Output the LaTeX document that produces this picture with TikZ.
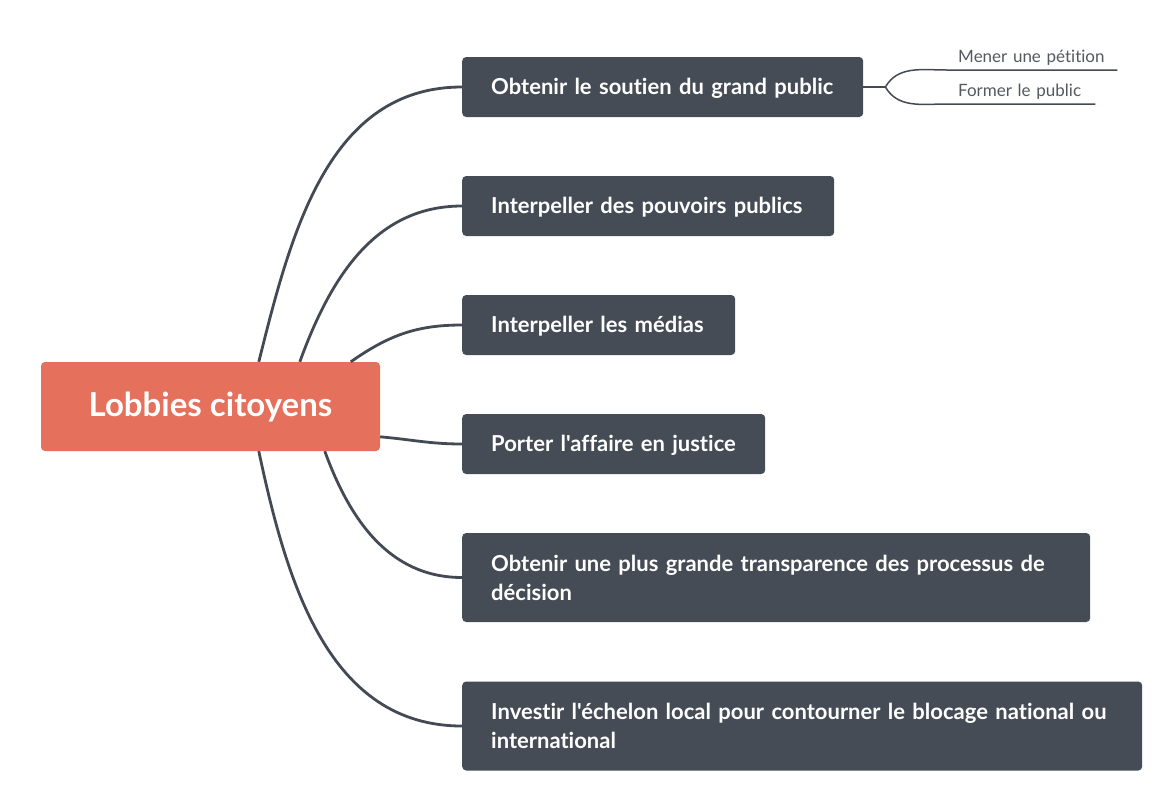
\documentclass[tikz,border=0pt]{standalone}
\usepackage{fontspec}
\setmainfont{Lato}[Ligatures={TeXOff,CommonOff}]
\usetikzlibrary{calc,positioning}
\definecolor{LobbyClr}{RGB}{229,112,92}
\definecolor{TopicClr}{RGB}{69,76,86}
\definecolor{LineClr}{RGB}{67,74,84}
\definecolor{SubClr}{RGB}{85,88,94}

\begin{document}
\begin{tikzpicture}[x=1pt,y=-1pt,
  lobby/.style={fill=LobbyClr,text=white,rounded corners=4pt,minimum width=339pt,
    minimum height=89pt,font=\fontsize{33}{40}\selectfont\bfseries},
  topic/.style={fill=TopicClr,text=white,rounded corners=4pt,anchor=west,
    inner xsep=29pt,inner ysep=0pt,minimum height=60pt,align=left,text width=#1,
    font=\fontsize{22}{29}\selectfont\bfseries},
  oneline/.style={text height=15.5pt,text depth=0pt},
  sub/.style={text=SubClr,anchor=south west,inner xsep=11pt,inner ysep=4pt,
    align=left,text width=#1,font=\fontsize{17}{20}\selectfont},
  branch/.style={draw=LineClr,line width=2.8pt},
  twig/.style={draw=LineClr,line width=1.5pt}]
\useasboundingbox (0,0) rectangle (1172,807);

\node[lobby] (lobby) at (210.5,406.5) {Lobbies citoyens};

\node[topic=343pt,oneline] (t1) at (462,87) {Obtenir le soutien du grand public};
\node[topic=314pt,oneline] (t2) at (462,206) {Interpeller des pouvoirs publics};
\node[topic=215pt,oneline] (t3) at (462,325) {Interpeller les médias};
\node[topic=245pt,oneline] (t4) at (462,444) {Porter l'affaire en justice};
\node[topic=570pt,minimum height=89pt] (t5) at (462,577.5)
  {Obtenir une plus grande transparence des processus de\\décision};
\node[topic=622pt,minimum height=89pt] (t6) at (462,726)
  {Investir l'échelon local pour contourner le blocage national ou\\international};

% points where the branches leave the central topic
\coordinate (s1) at ($(lobby.north west)+(218,0)$);
\coordinate (s2) at ($(lobby.north west)+(259,0)$);
\coordinate (s3) at ($(lobby.north west)+(310,0)$);
\coordinate (s4) at ($(lobby.north east)+(0,75)$);
\coordinate (s5) at ($(lobby.south west)+(284,0)$);
\coordinate (s6) at ($(lobby.south west)+(218,0)$);

\draw[branch] (t1.west) to[out=180,in=76] (s1);
\draw[branch] (t2.west) to[out=180,in=70] (s2);
\draw[branch] (t3.west) to[out=180,in=35] (s3);
\draw[branch] (t4.west) to[out=180,in=-5] (s4);
\draw[branch] (t5.west) to[out=180,in=-70] (s5);
\draw[branch] (t6.west) to[out=180,in=-78] (s6);

% subtopics
\node[sub=148pt] (m1) at (947,70) {Mener une pétition};
\node[sub=126pt] (m2) at (947,104) {Former le public};
\coordinate (fork) at ($(t1.east)+(22,0)$);
\draw[twig] (t1.east) -- (fork);
\draw[twig] (fork) to[out=60,in=180] (m1.south west) -- (m1.south east);
\draw[twig] (fork) to[out=-60,in=180] (m2.south west) -- (m2.south east);
\end{tikzpicture}
\end{document}
